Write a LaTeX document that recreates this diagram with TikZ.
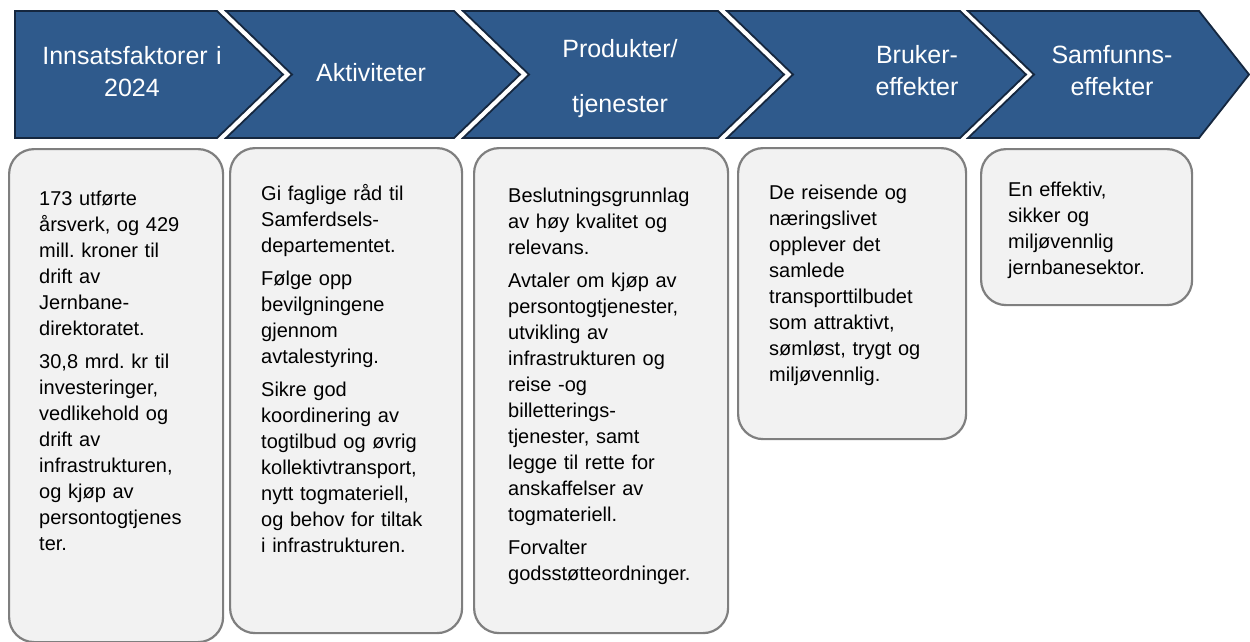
\documentclass[tikz,border=0pt]{standalone}
\usepackage{fontspec}
\setmainfont{Liberation Sans}
\usetikzlibrary{positioning}
\definecolor{chevblue}{HTML}{2F5A8C}
\definecolor{chevline}{HTML}{15273F}
\definecolor{boxfill}{HTML}{F2F2F2}
\definecolor{boxline}{HTML}{7F7F7F}
\frenchspacing

\begin{document}
\begin{tikzpicture}[x=1pt,y=-1pt,
	chevron/.style={fill=chevblue,draw=chevline,line width=1.8pt,line join=miter},
	head/.style={text=white,font=\fontsize{25}{32}\selectfont,text width=230pt,align=center,inner sep=0pt,anchor=base},
	infobox/.style={draw=boxline,fill=boxfill,line width=2.2pt,rounded corners=25pt,anchor=north west,inner sep=0pt},
	infotext/.style={font=\fontsize{20}{26}\selectfont,text width=205pt,align=left,inner sep=0pt,anchor=base west}]
	\clip (0,0) rectangle (1250,641);
	% chevrons
	\filldraw[chevron] (15,11) -- (217,11) -- (283,74.5) -- (217,138) -- (15,138) -- cycle;
	\filldraw[chevron] (226,11) -- (454,11) -- (520,74.5) -- (454,138) -- (226,138) -- (292,74.5) -- cycle;
	\filldraw[chevron] (463,11) -- (718,11) -- (784,74.5) -- (718,138) -- (463,138) -- (529,74.5) -- cycle;
	\filldraw[chevron] (727,11) -- (960,11) -- (1026,74.5) -- (960,138) -- (727,138) -- (793,74.5) -- cycle;
	\filldraw[chevron] (968,11) -- (1199,11) -- (1249,74.5) -- (1199,138) -- (968,138) -- (1034,74.5) -- cycle;
	\node[head] (innsats) at (132,64) {Innsatsfaktorer i\\2024};
	\node[head] (aktiv) at (371,81) {Aktiviteter};
	\node[head] (produkt) at (620,57) {Produkter/\\[23pt]tjenester};
	\node[head] (bruker) at (917,63) {Bruker-\\effekter};
	\node[head] (samfunn) at (1112,63) {Samfunns-\\effekter};
	% boxes
	\node[infobox,minimum width=214pt,minimum height=493pt] (innsatsbox) at (8,148) {};
	\node[infobox,minimum width=232pt,minimum height=485pt] (aktivbox) at (229,147) {};
	\node[infobox,minimum width=254pt,minimum height=485pt] (produktbox) at (473,147) {};
	\node[infobox,minimum width=228pt,minimum height=291pt] (brukerbox) at (737,147) {};
	\node[infobox,minimum width=211pt,minimum height=156pt] (samfunnbox) at (980,148) {};
	\node[infotext] (innsatstext) at (39,205) {173 utførte\\årsverk, og 429\\mill. kroner til\\drift av\\Jernbane-\\direktoratet.\\[7pt]
		30,8 mrd. kr til\\investeringer,\\vedlikehold og\\drift av\\infrastrukturen,\\og kjøp av\\persontogtjenes\\ter.};
	\node[infotext] (aktivtext) at (261,200) {Gi faglige råd til\\Samferdsels-\\departementet.\\[7pt]
		Følge opp\\bevilgningene\\gjennom\\avtalestyring.\\[7pt]
		Sikre god\\koordinering av\\togtilbud og øvrig\\kollektivtransport,\\nytt togmateriell,\\og behov for tiltak\\i infrastrukturen.};
	\node[infotext] (produkttext) at (508,202) {Beslutningsgrunnlag\\av høy kvalitet og\\relevans.\\[7pt]
		Avtaler om kjøp av\\persontogtjenester,\\utvikling av\\infrastrukturen og\\reise -og\\billetterings-\\tjenester, samt\\legge til rette for\\anskaffelser av\\togmateriell.\\[7pt]
		Forvalter\\godsstøtteordninger.};
	\node[infotext] (brukertext) at (769,199) {De reisende og\\næringslivet\\opplever det\\samlede\\transporttilbudet\\som attraktivt,\\sømløst, trygt og\\miljøvennlig.};
	\node[infotext] (samfunntext) at (1008,196) {En effektiv,\\sikker og\\miljøvennlig\\jernbanesektor.};
\end{tikzpicture}
\end{document}
